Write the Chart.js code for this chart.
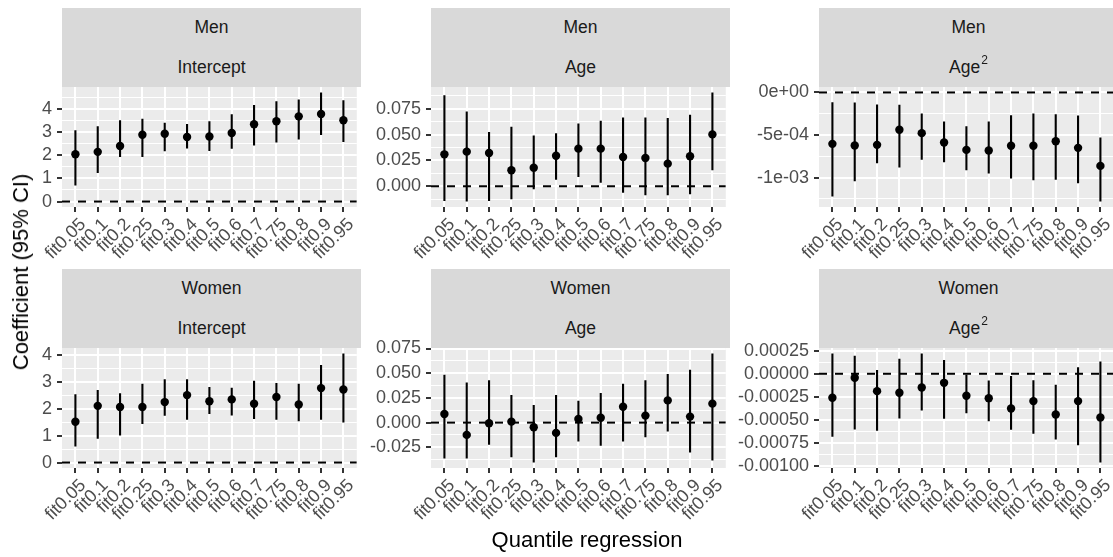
<!DOCTYPE html>
<html><head><meta charset="utf-8">
<script src="https://cdn.jsdelivr.net/npm/chart.js@4.4.1/dist/chart.umd.min.js"></script>
<style>
html,body{margin:0;padding:0;background:#fff;overflow:hidden;width:1113px;height:557px;position:relative;font-family:'Liberation Sans',Arial,sans-serif;}
canvas{position:absolute;}
.strip{position:absolute;background:#D9D9D9;color:#1A1A1A;font-size:17.5px;}
.strip div{height:39.5px;display:flex;align-items:center;justify-content:center;}
.strip sup{font-size:12px;vertical-align:0;position:relative;top:-7px;margin-left:1px;}
.title{position:absolute;color:#000;font-size:22px;white-space:nowrap;transform:translate(-50%,-50%);}
</style></head><body>
<script>
const categories = ['fit0.05','fit0.1','fit0.2','fit0.25','fit0.3','fit0.4','fit0.5','fit0.6','fit0.7','fit0.75','fit0.8','fit0.9','fit0.95'];

const menInterceptEst = [2.04,2.14,2.39,2.88,2.92,2.78,2.80,2.95,3.33,3.46,3.67,3.77,3.50];
const menInterceptLo  = [0.69,1.23,1.92,1.92,2.17,2.29,2.18,2.27,2.41,2.54,2.67,2.87,2.57];
const menInterceptHi  = [3.07,3.24,3.50,3.57,3.40,3.34,3.46,3.76,4.16,4.32,4.40,4.70,4.36];

const menAgeEst = [0.0309,0.0335,0.0322,0.0155,0.0180,0.0296,0.0364,0.0364,0.0283,0.0274,0.0219,0.0290,0.0502];
const menAgeLo  = [-0.0142,-0.0148,-0.0142,-0.0126,-0.0029,0.0064,0.0090,0.0035,-0.0064,-0.0087,-0.0087,-0.0077,0.0155];
const menAgeHi  = [0.0882,0.0724,0.0525,0.0576,0.0492,0.0512,0.0608,0.0634,0.0666,0.0666,0.0660,0.0692,0.0908];

const menAge2Est = [-6.04e-4,-6.24e-4,-6.16e-4,-4.39e-4,-4.78e-4,-5.88e-4,-6.75e-4,-6.82e-4,-6.27e-4,-6.27e-4,-5.73e-4,-6.51e-4,-8.63e-4];
const menAge2Lo  = [-1.224e-3,-1.043e-3,-8.31e-4,-8.82e-4,-7.92e-4,-8.20e-4,-9.14e-4,-9.53e-4,-1.012e-3,-1.031e-3,-1.027e-3,-1.067e-3,-1.282e-3];
const menAge2Hi  = [-1.14e-4,-1.18e-4,-1.41e-4,-1.45e-4,-2.47e-4,-3.41e-4,-3.96e-4,-3.41e-4,-2.67e-4,-2.47e-4,-2.55e-4,-2.71e-4,-5.29e-4];

const womenInterceptEst = [1.52,2.11,2.07,2.07,2.25,2.51,2.28,2.35,2.19,2.44,2.16,2.77,2.72];
const womenInterceptLo  = [0.60,0.89,1.01,1.43,1.74,1.59,1.81,1.75,1.62,1.59,1.54,1.59,1.49];
const womenInterceptHi  = [2.54,2.70,2.58,2.93,3.10,3.10,2.81,2.78,3.04,2.96,2.93,3.63,4.06];

const womenAgeEst = [0.0087,-0.0124,-0.0007,0.0010,-0.0047,-0.0104,0.0037,0.0050,0.0161,0.0071,0.0225,0.0061,0.0192];
const womenAgeLo  = [-0.0363,-0.0363,-0.0225,-0.0350,-0.0404,-0.0350,-0.0192,-0.0235,-0.0192,-0.0148,-0.0091,-0.0303,-0.0383];
const womenAgeHi  = [0.0484,0.0407,0.0430,0.0279,0.0178,0.0279,0.0222,0.0299,0.0394,0.0430,0.0491,0.0535,0.0700];

const womenAge2Est = [-2.60e-4,-0.43e-4,-1.88e-4,-2.06e-4,-1.48e-4,-0.98e-4,-2.38e-4,-2.64e-4,-3.76e-4,-2.96e-4,-4.41e-4,-2.96e-4,-4.73e-4];
const womenAge2Lo  = [-6.83e-4,-6.03e-4,-6.18e-4,-4.84e-4,-3.97e-4,-4.88e-4,-4.26e-4,-5.13e-4,-6.07e-4,-6.50e-4,-7.12e-4,-7.73e-4,-9.61e-4];
const womenAge2Hi  = [2.20e-4,1.95e-4,0.40e-4,1.63e-4,2.20e-4,1.48e-4,-0.11e-4,-0.72e-4,-0.25e-4,-0.69e-4,-1.19e-4,0.72e-4,1.34e-4];

const interceptTicks = [0,1,2,3,4];
const interceptTickLabels = ['0','1','2','3','4'];
const menAgeTicks = [0,0.025,0.05,0.075];
const menAgeTickLabels = ['0.000','0.025','0.050','0.075'];
const menAge2Ticks = [-1e-3,-5e-4,0];
const menAge2TickLabels = ['-1e-03','-5e-04','0e+00'];
const womenAgeTicks = [-0.025,0,0.025,0.05,0.075];
const womenAgeTickLabels = ['-0.025','0.000','0.025','0.050','0.075'];
const womenAge2Ticks = [-0.001,-0.00075,-0.0005,-0.00025,0,0.00025];
const womenAge2TickLabels = ['-0.00100','-0.00075','-0.00050','-0.00025','0.00000','0.00025'];

const sexLabels = ['Men','Women'];
const termLabels = ['Intercept','Age','Age<sup>2</sup>'];

// ---- layout ----
const COL_LEFT = [62, 431, 819];
const ROW_TOP = [8, 269];
const PLOT_W = 299, PLOT_H = 120, STRIP_H = 79;
const YAXIS_W = 110, XAXIS_H = 75, PAD_TOP = 24;
const X_MIN = -0.6, X_MAX = categories.length - 1 + 0.6;
const FONT = "'Liberation Sans', Arial, sans-serif";

const panels = [
  {row:0,col:0,est:menInterceptEst,lo:menInterceptLo,hi:menInterceptHi,ticks:interceptTicks,labels:interceptTickLabels},
  {row:0,col:1,est:menAgeEst,lo:menAgeLo,hi:menAgeHi,ticks:menAgeTicks,labels:menAgeTickLabels},
  {row:0,col:2,est:menAge2Est,lo:menAge2Lo,hi:menAge2Hi,ticks:menAge2Ticks,labels:menAge2TickLabels},
  {row:1,col:0,est:womenInterceptEst,lo:womenInterceptLo,hi:womenInterceptHi,ticks:interceptTicks,labels:interceptTickLabels},
  {row:1,col:1,est:womenAgeEst,lo:womenAgeLo,hi:womenAgeHi,ticks:womenAgeTicks,labels:womenAgeTickLabels},
  {row:1,col:2,est:womenAge2Est,lo:womenAge2Lo,hi:womenAge2Hi,ticks:womenAge2Ticks,labels:womenAge2TickLabels},
];

const panelBg = {
  id:'panelBg',
  beforeDraw(chart){
    const {ctx, chartArea:a} = chart;
    ctx.save(); ctx.fillStyle = '#EBEBEB';
    ctx.fillRect(a.left, a.top, a.right - a.left, a.bottom - a.top);
    ctx.restore();
  }
};

function makePanel(p){
  const plotLeft = COL_LEFT[p.col];
  const stripTop = ROW_TOP[p.row];
  const plotTop = stripTop + STRIP_H;

  const strip = document.createElement('div');
  strip.className = 'strip';
  strip.style.left = plotLeft + 'px';
  strip.style.top = stripTop + 'px';
  strip.style.width = PLOT_W + 'px';
  strip.style.height = STRIP_H + 'px';
  strip.innerHTML = '<div>' + sexLabels[p.row] + '</div><div>' + termLabels[p.col] + '</div>';
  document.body.appendChild(strip);

  const canvas = document.createElement('canvas');
  const W = YAXIS_W + PLOT_W, H = PAD_TOP + PLOT_H + XAXIS_H;
  canvas.width = W; canvas.height = H;
  canvas.style.width = W + 'px'; canvas.style.height = H + 'px';
  canvas.style.left = (plotLeft - YAXIS_W) + 'px';
  canvas.style.top = (plotTop - PAD_TOP) + 'px';
  document.body.appendChild(canvas);

  const all = p.lo.concat(p.hi, p.est, [0]);
  const dmin = Math.min(...all), dmax = Math.max(...all);
  const ex = (dmax - dmin) * 0.05;
  const ymin = dmin - ex, ymax = dmax + ex;

  const step = p.ticks[1] - p.ticks[0];
  const tickList = p.ticks.map((v,i) => ({value:v, lab:p.labels[i], minor:false}));
  for (let k = -1; k < p.ticks.length; k++){
    const v = p.ticks[0] + (k + 0.5) * step;
    if (v > ymin && v < ymax) tickList.push({value:v, lab:'', minor:true});
  }
  tickList.sort((a,b) => a.value - b.value);

  const points = categories.map((c,i) => ({x:i, y:p.est[i]}));
  const bars = [];
  categories.forEach((c,i) => { bars.push({x:i, y:p.lo[i]}, {x:i, y:p.hi[i]}, {x:i, y:null}); });
  const zero = [{x:X_MIN, y:0}, {x:X_MAX, y:0}];

  new Chart(canvas, {
    type:'line',
    data:{datasets:[
      {data:points, showLine:false, pointRadius:4.2, pointBackgroundColor:'#000', pointBorderWidth:0, pointBorderColor:'#000'},
      {data:bars, borderColor:'#000', borderWidth:2.1, pointRadius:0, spanGaps:false, borderCapStyle:'butt'},
      {data:zero, borderColor:'#000', borderWidth:2, borderDash:[8,8], pointRadius:0, borderCapStyle:'butt'}
    ]},
    options:{
      responsive:false, animation:false, devicePixelRatio:1,
      layout:{padding:{top:PAD_TOP, left:0, right:0, bottom:0}},
      plugins:{legend:{display:false}, tooltip:{enabled:false}},
      events:[],
      scales:{
        x:{type:'linear', min:X_MIN, max:X_MAX, bounds:'data',
          afterBuildTicks: s => { s.ticks = categories.map((c,i) => ({value:i})); },
          afterFit: s => { s.height = XAXIS_H; },
          ticks:{autoSkip:false, maxRotation:45, minRotation:45, color:'#4D4D4D', padding:2,
            showLabelBackdrop:true, backdropColor:'rgba(0,0,0,0)', backdropPadding:0,
            font:{family:FONT, size:18}, callback:(v) => categories[Math.round(v)]},
          grid:{color:'#FFFFFF', lineWidth:2, tickColor:'#333333', tickLength:5, tickWidth:2},
          border:{display:false}
        },
        y:{type:'linear', min:ymin, max:ymax, bounds:'data',
          afterBuildTicks: s => { s.ticks = tickList.map(t => Object.assign({}, t)); },
          afterFit: s => { s.width = YAXIS_W; },
          ticks:{autoSkip:false, color:'#4D4D4D', padding:5, font:{family:FONT, size:18},
            callback:(v,i,t) => t[i].lab},
          grid:{color:'#FFFFFF',
            lineWidth: c => (c.tick && c.tick.minor) ? 1 : 2,
            tickColor: c => (c.tick && c.tick.minor) ? 'rgba(0,0,0,0)' : '#333333',
            tickWidth:2, tickLength:5},
          border:{display:false}
        }
      }
    },
    plugins:[panelBg]
  });
}

panels.forEach(makePanel);

const yt = document.createElement('div');
yt.className = 'title';
yt.textContent = 'Coefficient (95% CI)';
yt.style.left = '21px'; yt.style.top = '272px';
yt.style.transform = 'translate(-50%,-50%) rotate(-90deg)';
document.body.appendChild(yt);

const xt = document.createElement('div');
xt.className = 'title';
xt.textContent = 'Quantile regression';
xt.style.left = '587px'; xt.style.top = '540px';
document.body.appendChild(xt);
</script>
</body></html>
